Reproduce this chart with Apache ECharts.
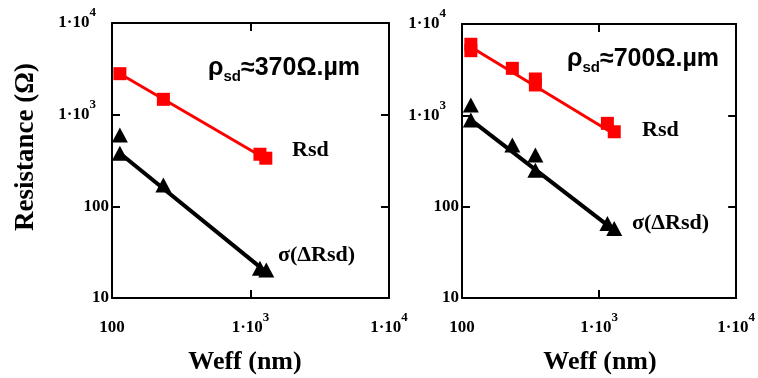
<!DOCTYPE html>
<html><head><meta charset="utf-8">
<script src="https://cdn.jsdelivr.net/npm/echarts@6/dist/echarts.min.js"></script>
<style>html,body{margin:0;padding:0;background:#fff}#c{width:758px;height:378px}</style>
</head><body><div id="c"></div>
<script>
// ---- data (Weff in nm, resistance in ohm) ----
const leftRsd = [[114, 2800], [235, 1470], [1170, 370], [1290, 335]];
const leftSigma = [[114, 600], [114, 379], [235, 171], [1170, 21.1], [1300, 20.2]];
const leftRsdFit = [[114, 2800], [1280, 330]];
const leftSigmaFit = [[114, 380], [1280, 19.5]];

const rightRsd = [[116, 6000], [116, 5100], [233, 3270], [343, 2500], [343, 2150], [1150, 817], [1290, 661]];
const rightSigma = [[116, 1297], [116, 889], [233, 473], [343, 367], [343, 251], [1150, 65.6], [1290, 57.8]];
const rightRsdFit = [[116, 5600], [1250, 640]];
const rightSigmaFit = [[116, 890], [1290, 55]];

const xTickValues = [100, 1000, 10000];
const xTickLabels = ['100', '1·10|3', '1·10|4'];
const yTickValues = [10, 100, 1000, 10000];
const yTickLabels = ['10', '100', '1·10|3', '1·10|4'];

const leftNote = ['ρ', 'sd', '≈370Ω.µm'];
const rightNote = ['ρ', 'sd', '≈700Ω.µm'];
const rsdLabel = 'Rsd';
const sigmaLabel = 'σ(ΔRsd)';
const xTitle = 'Weff (nm)';
const yTitle = 'Resistance (Ω)';

// ---- helpers ----
const SERIF = '"Liberation Serif", "Times New Roman", serif';
const SANS = '"Liberation Sans", Arial, sans-serif';

function fmt(values, labels) {
  return function (v) {
    const e = Math.round(Math.log10(v));
    const i = values.findIndex(t => Math.round(Math.log10(t)) === e);
    if (i < 0) return '';
    const parts = labels[i].split('|');
    if (parts.length === 1) return '{h|\u200b}{n|' + parts[0] + '}';
    return '{h|\u200b}{n|' + parts[0] + '}{s|' + parts[1] + '}';
  };
}
function richFor(extraRight) {
  return {
    h: { fontSize: 1, lineHeight: 25, color: '#000' },
    n: { fontFamily: SERIF, fontWeight: 'bold', fontSize: 17, lineHeight: 17, color: '#000', verticalAlign: 'bottom' },
    s: { fontFamily: SERIF, fontWeight: 'bold', fontSize: 13, lineHeight: 13, color: '#000', verticalAlign: 'top', padding: [0, extraRight, 0, 0] }
  };
}

function xAx(grid, pos, show) {
  return {
    type: 'log', logBase: 10, min: 100, max: 10000, gridIndex: grid, position: pos,
    axisLine: { show: true, lineStyle: { color: '#000', width: 2 } },
    axisTick: { show: true, inside: true, length: 8, lineStyle: { color: '#000', width: 2 } },
    splitLine: { show: false }, minorTick: { show: false },
    axisLabel: { show: show, margin: 13, formatter: fmt(xTickValues, xTickLabels), rich: richFor(0), showMinLabel: true, showMaxLabel: true, hideOverlap: false }
  };
}
function yAx(grid, pos, show) {
  return {
    type: 'log', logBase: 10, min: 10, max: 10000, gridIndex: grid, position: pos,
    axisLine: { show: true, lineStyle: { color: '#000', width: 2 } },
    axisTick: { show: true, inside: true, length: 8, lineStyle: { color: '#000', width: 2 } },
    splitLine: { show: false }, minorTick: { show: false },
    axisLabel: { show: show, margin: 3, padding: [0, 0, 8, 0], formatter: fmt(yTickValues, yTickLabels), rich: richFor(13), showMinLabel: true, showMaxLabel: true, hideOverlap: false }
  };
}
function fitLine(data, color, width, xi, yi) {
  return { type: 'line', data: data, xAxisIndex: xi, yAxisIndex: yi, symbol: 'none', z: 2,
    lineStyle: { color: color, width: width }, silent: true, animation: false };
}
function pts(data, sym, size, color, xi, yi) {
  return { type: 'scatter', data: data, xAxisIndex: xi, yAxisIndex: yi, symbol: sym, symbolSize: size, z: 3,
    itemStyle: { color: color, opacity: 1 }, silent: true, animation: false };
}
function note(parts, x, y) {
  return { type: 'text', left: x, top: y, style: {
    text: '{a|' + parts[0] + '}{b|' + parts[1] + '}{a|' + parts[2] + '}',
    rich: { a: { fontFamily: SANS, fontWeight: 'bold', fontSize: 25, lineHeight: 25, color: '#000', verticalAlign: 'middle' },
            b: { fontFamily: SANS, fontWeight: 'bold', fontSize: 15, lineHeight: 15, color: '#000', verticalAlign: 'middle', padding: [16, 0, 0, 0] } } } };
}
function label(txt, x, y, size) {
  return { type: 'text', left: x, top: y, style: { text: txt, fontFamily: SERIF, fontWeight: 'bold', fontSize: size, fill: '#000' } };
}

const option = {
  animation: false,
  backgroundColor: '#fff',
  grid: [
    { left: 112, right: 758 - 389, top: 23, bottom: 378 - 298 },
    { left: 462, right: 758 - 741, top: 24, bottom: 378 - 298 }
  ],
  xAxis: [xAx(0, 'bottom', true), xAx(0, 'top', false), xAx(1, 'bottom', true), xAx(1, 'top', false)],
  yAxis: [yAx(0, 'left', true), yAx(0, 'right', false), yAx(1, 'left', true), yAx(1, 'right', false)],
  series: [
    fitLine(leftRsdFit, '#ff0000', 3, 0, 0),
    fitLine(leftSigmaFit, '#000000', 4, 0, 0),
    pts(leftRsd, 'rect', 13, '#ff0000', 0, 0),
    pts(leftSigma, 'triangle', [16, 15], '#000000', 0, 0),
    fitLine(rightRsdFit, '#ff0000', 3, 2, 2),
    fitLine(rightSigmaFit, '#000000', 4, 2, 2),
    pts(rightRsd, 'rect', 13, '#ff0000', 2, 2),
    pts(rightSigma, 'triangle', [16, 15], '#000000', 2, 2)
  ],
  graphic: [
    note(leftNote, 208, 53),
    note(rightNote, 567, 44),
    label(rsdLabel, 292, 139, 22),
    label(rsdLabel, 642, 119, 22),
    label(sigmaLabel, 278, 244, 22),
    label(sigmaLabel, 632, 212, 22),
    { type: 'text', x: 245, y: 362, style: { text: xTitle, fontFamily: SERIF, fontWeight: 'bold', fontSize: 26, fill: '#000', align: 'center', verticalAlign: 'middle' } },
    { type: 'text', x: 600, y: 362, style: { text: xTitle, fontFamily: SERIF, fontWeight: 'bold', fontSize: 26, fill: '#000', align: 'center', verticalAlign: 'middle' } },
    { type: 'text', x: 26, y: 147, rotation: Math.PI / 2, style: { text: yTitle, fontFamily: SERIF, fontWeight: 'bold', fontSize: 27, fill: '#000', align: 'center', verticalAlign: 'middle' } }
  ]
};
const chart = echarts.init(document.getElementById('c'), null, { renderer: 'canvas' });
chart.setOption(option);
</script>
</body></html>
